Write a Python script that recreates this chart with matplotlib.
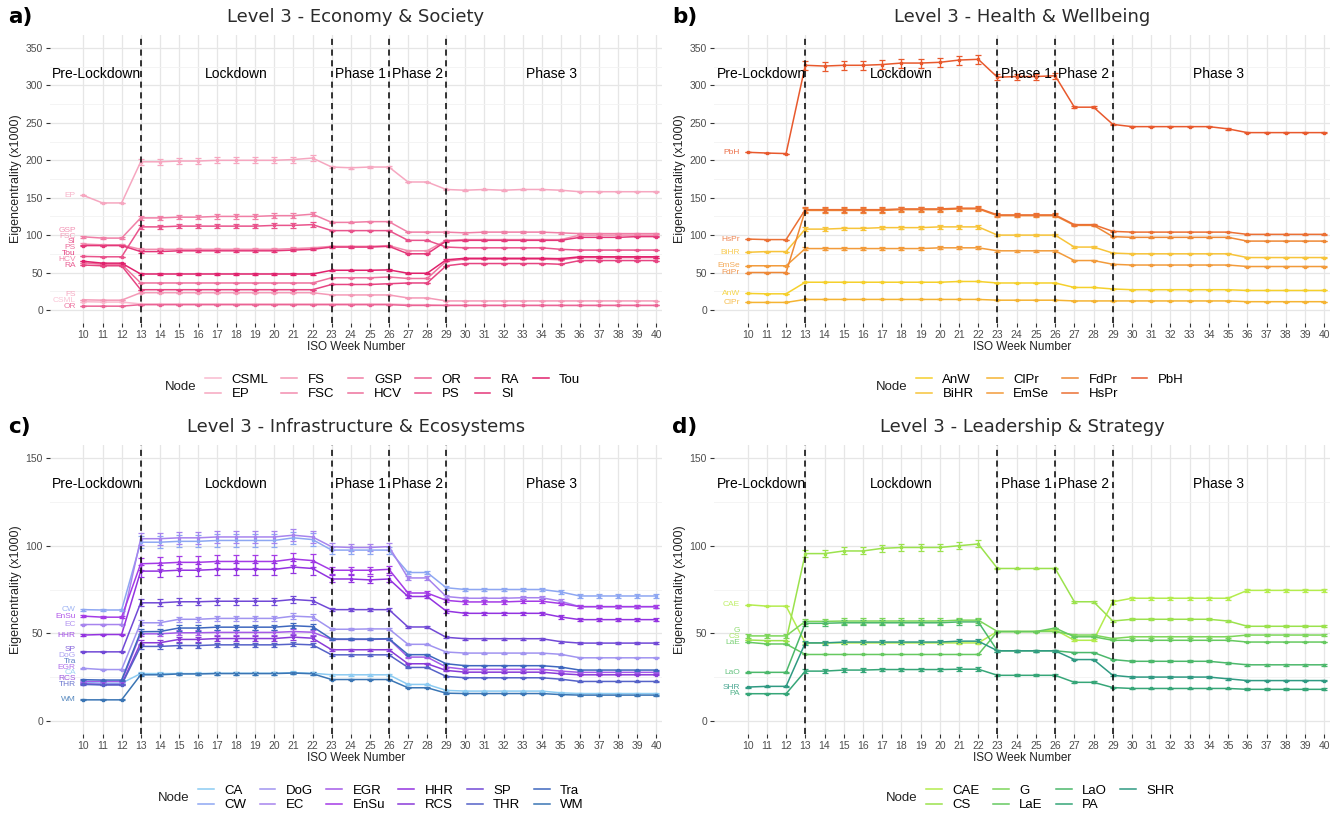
import numpy as np
import matplotlib.pyplot as plt
from matplotlib.colors import to_rgba

plt.rcParams['font.family'] = ['Liberation Sans', 'DejaVu Sans']

weeks = list(range(10, 41))
phase_lines = [13, 23, 26, 29]
phase_names = ['Pre-Lockdown', 'Lockdown', 'Phase 1', 'Phase 2', 'Phase 3']
phase_pos = [10.7, 18, 24.5, 27.5, 34.5]

# ---- a) Economy & Society
econ_nodes = ['CSML', 'EP', 'FS', 'FSC', 'GSP', 'HCV', 'OR', 'PS', 'RA', 'SI', 'Tou']
econ_vals = {
    'CSML': [11, 10.5, 10.5] + [8] * 10 + [8, 8, 8, 8] + [7, 7] + [6] * 12,
    'EP': [153, 143, 143, 198, 198, 199, 199, 200, 200, 200, 200, 201, 203, 191, 190, 191, 191, 171, 171,
           161, 160, 161, 160, 161, 161, 160, 158, 158, 158, 158, 158],
    'FS': [13.5, 13, 13] + [23] * 10 + [20] * 4 + [16, 16] + [12] * 12,
    'FSC': [88, 87, 87, 81, 81, 81, 81, 81, 81, 81, 81, 82, 83, 85, 85, 85, 86, 79, 79,
            93, 94, 94, 94, 94, 94, 94, 100, 100, 100, 100, 100],
    'GSP': [97.7, 96, 96, 123, 123, 124, 124, 125, 125, 125, 126, 126, 128, 117, 117, 118, 118, 104, 104,
            104, 103, 104, 104, 104, 104, 103, 102, 102, 102, 102, 102],
    'HCV': [63, 61, 61] + [36] * 10 + [43, 43, 43, 44] + [42, 42] + [65, 68, 68, 68, 68, 68, 67, 70, 70, 70, 70, 70],
    'OR': [5, 5, 5] + [7] * 10 + [7, 7, 7, 7] + [6, 6] + [6] * 12,
    'PS': [71.5, 71, 71, 111, 111, 112, 112, 112, 112, 112, 113, 113, 114, 106, 106, 106, 106, 93, 93,
           84, 83, 83, 83, 83, 83, 81, 80, 80, 80, 80, 80],
    'RA': [60, 59, 59] + [27] * 10 + [34, 34, 34, 35] + [36, 36] + [59, 62, 62, 62, 62, 62, 61, 66, 66, 66, 66, 66],
    'SI': [86, 86, 86, 78, 78, 79, 79, 79, 79, 79, 79, 80, 81, 84, 84, 84, 85, 75, 75,
           92, 93, 93, 93, 93, 93, 93, 97, 97, 97, 98, 98],
    'Tou': [65, 62.5, 62.5] + [48] * 10 + [53, 53, 53, 53.5] + [49, 49] + [67, 69, 69, 69, 69, 69, 68.5, 71, 71, 71, 71, 71],
}
econ_err = {
    'EP': [0, 0, 0] + [4] * 10 + [1] * 4 + [0, 0] + [0.5] * 12,
    'GSP': [1.5, 1.5, 1.5] + [3] * 10 + [1] * 4 + [0.5, 0.5] + [1] * 12,
    'PS': [0, 0, 0] + [3] * 10 + [1] * 4 + [0.5, 0.5] + [0.5] * 12,
    'FSC': [1, 1, 1] + [1.5] * 10 + [1] * 4 + [0.5, 0.5] + [1] * 12,
    'SI': [1, 1, 1] + [1.5] * 10 + [1] * 4 + [0.5, 0.5] + [1] * 12,
    'Tou': [0, 0, 0] + [1.5] * 10 + [1] * 4 + [0.5, 0.5] + [1] * 12,
}
econ_cols = ['#F9BBCF', '#F6A7C0', '#F49AB7', '#F28DAF', '#F07FA6', '#EE719D',
             '#EB6395', '#E9548C', '#E64582', '#E43779', '#E0216C']

# ---- b) Health & Wellbeing
health_nodes = ['AnW', 'BiHR', 'ClPr', 'EmSe', 'FdPr', 'HsPr', 'PbH']
health_vals = {
    'AnW': [22, 21.5, 21.5] + [37, 37, 37, 37, 37, 37, 37, 37, 38, 38] + [36] * 4 + [30, 30] + [28] + [27] * 6 + [26] * 5,
    'BiHR': [77, 78, 78] + [108, 108, 109, 109, 110, 110, 110, 111, 111, 111] + [100] * 4 + [84, 84] + [76] + [75] * 6 + [70] * 5,
    'ClPr': [10, 10, 10] + [14] * 10 + [13] * 4 + [12, 12] + [12] + [12] * 6 + [11] * 5,
    'EmSe': [59, 59, 59] + [82, 82, 82, 82, 82, 82, 82, 83, 83, 83] + [79] * 4 + [66, 66] + [61] + [60] * 6 + [58] * 5,
    'FdPr': [50, 50, 50] + [133, 133, 133, 133, 133, 134, 134, 134, 135, 135] + [126] * 4 + [113, 113] + [98] + [97] * 6 + [92] * 5,
    'HsPr': [94.7, 94, 94] + [134, 134, 134, 134, 134, 135, 135, 135, 136, 136] + [127] * 4 + [114, 114] + [105] + [104] * 6 + [101] * 5,
    'PbH': [210.7, 209.7, 209, 327, 326, 327, 327, 328, 330, 330, 331, 334, 335, 311, 312, 312, 313, 271, 271,
            248, 245, 245, 245, 245, 245, 242, 237, 237, 237, 237, 237],
}
health_err = {
    'PbH': [0, 0, 0] + [6] * 10 + [4] * 4 + [1, 1] + [1] * 12,
    'HsPr': [0, 0, 0] + [3] * 10 + [2] * 4 + [1, 1] + [0.5] * 12,
    'FdPr': [0, 0, 0] + [3] * 10 + [2] * 4 + [1, 1] + [0.5] * 12,
    'BiHR': [0, 0, 0] + [2.5] * 10 + [1] * 4 + [1, 1] + [0.5] * 12,
    'EmSe': [0, 0, 0] + [2] * 10 + [1] * 4 + [1, 1] + [0.5] * 12,
}
health_cols = ['#F5D02C', '#F7C43A', '#F5B433', '#F29B3B', '#EE8836', '#EB7034', '#E8592D']

# ---- c) Infrastructure & Ecosystems
infra_nodes = ['CA', 'CW', 'DoG', 'EC', 'EGR', 'EnSu', 'HHR', 'RCS', 'SP', 'THR', 'Tra', 'WM']
infra_vals = {
    'CA': [22, 21.5, 21.5, 27, 27, 27, 27, 27.2, 27.2, 27.2, 27.2, 27.5, 27.2, 26.3, 26.3, 26.3, 26.3, 20.8, 20.8,
           17.4, 17, 17, 17, 17, 17, 16, 15.6, 15.6, 15.6, 15.6, 15.6],
    'CW': [63.5, 63.3, 63.3, 102, 102, 102.5, 102.5, 103, 103, 103, 103, 104.5, 103.5, 97.5, 97.5, 97.5, 97.5,
           84.7, 84.7, 76, 75, 75, 75, 75, 75, 73.6, 71.3, 71.3, 71.3, 71.3, 71.3],
    'DoG': [30, 29.3, 29.3, 56, 56, 58, 58, 58.5, 58.5, 58.5, 58.5, 59.8, 59.3, 52.3, 52.3, 52.5, 52.5,
            43.7, 43.7, 39.3, 38.7, 38.7, 38.7, 38.7, 38.7, 38, 36, 36, 36, 36, 36],
    'EC': [55, 55, 55, 104, 104, 104.5, 104.5, 105, 105, 105, 105, 106, 105, 99.4, 99, 99, 99.5,
           81.6, 81.6, 71, 70, 70, 70, 70.3, 70.3, 68.3, 65.2, 65.2, 65.2, 65.2, 65.2],
    'EGR': [22.5, 22.5, 22.5, 49.7, 49.7, 50.3, 50.3, 50.5, 50.5, 50.5, 50.5, 51, 50.6, 46.5, 46.5, 46.5, 46.7,
            36.4, 36.4, 30.7, 29.4, 29.4, 29.4, 29.4, 29.4, 28.4, 27.7, 27.7, 27.7, 27.7, 27.7],
    'EnSu': [59.8, 59.2, 59.2, 89.7, 90, 90.5, 90.5, 91, 91, 91, 91, 92.4, 91.5, 86, 86, 86, 86.5,
             73, 73, 68.8, 67.9, 67.9, 67.9, 68.3, 68.3, 67, 65.2, 65.2, 65.2, 65.2, 65.2],
    'HHR': [49, 49.3, 49.3, 85.5, 85.5, 86, 86, 86.5, 86.5, 86.5, 86.5, 87.8, 87, 81, 81, 80.5, 81,
            71, 71, 62.7, 61.4, 61.4, 61.4, 61.4, 61.4, 59.3, 57.8, 57.8, 57.8, 57.8, 57.8],
    'RCS': [21.1, 20.8, 20.8, 44.6, 44.6, 46.5, 46.5, 47, 47, 47, 47, 47.8, 47.2, 40.6, 40.6, 40.6, 40.6,
            32.6, 32.6, 28.8, 27.8, 27.8, 27.8, 27.8, 27.8, 26.9, 26.3, 26.3, 26.3, 26.3, 26.3],
    'SP': [39.4, 39.4, 39.4, 67.4, 67.4, 68, 68, 68.3, 68.3, 68.3, 68.3, 69.3, 68.6, 63.5, 63.5, 63.5, 63.5,
           53.6, 53.6, 47.7, 46.9, 46.9, 46.9, 46.9, 46.9, 45.2, 44.4, 44.4, 44.4, 44.4, 44.4],
    'THR': [20.8, 20.5, 20.5, 42.5, 42.5, 43, 43, 43.4, 43.4, 43.4, 43.4, 43.8, 43.4, 37.7, 37.7, 37.7, 37.7,
            30.5, 30.5, 25.4, 24.6, 24.6, 24.6, 24.6, 24.6, 23.8, 22.5, 22.5, 22.5, 22.5, 22.5],
    'Tra': [23.5, 23.3, 23.3, 50.9, 51, 53, 53, 53.5, 53.5, 53.5, 53.5, 54.3, 53.8, 46.7, 46.7, 46.7, 46.9,
            37.8, 37.8, 32.6, 31.5, 31.5, 31.5, 31.5, 31.5, 30.7, 29, 29, 29, 29, 29],
    'WM': [12, 12, 12, 26.3, 26.3, 26.8, 26.8, 27, 27, 27, 27, 27.3, 26.9, 23.6, 23.6, 23.6, 23.6,
           18.9, 18.9, 15.8, 15.6, 15.6, 15.6, 15.6, 15.6, 15, 14.7, 14.7, 14.7, 14.7, 14.7],
}
infra_err = {
    'CW': [0.5] * 3 + [3.5] * 10 + [2] * 4 + [1, 1] + [1] * 12,
    'EC': [0.5] * 3 + [3.5] * 10 + [2] * 4 + [1, 1] + [1] * 12,
    'EnSu': [0.5] * 3 + [3.5] * 10 + [2] * 4 + [1, 1] + [1] * 12,
    'HHR': [0.5] * 3 + [3.5] * 10 + [2] * 4 + [1, 1] + [1] * 12,
    'SP': [0.3] * 3 + [2] * 10 + [1] * 4 + [0.5, 0.5] + [0.5] * 12,
    'DoG': [0.3] * 3 + [1.5] * 10 + [0.5] * 4 + [0.3, 0.3] + [0.3] * 12,
    'Tra': [0.3] * 3 + [1.5] * 10 + [0.5] * 4 + [0.3, 0.3] + [0.3] * 12,
    'EGR': [0.3] * 3 + [1.5] * 10 + [0.5] * 4 + [0.3, 0.3] + [0.3] * 12,
    'RCS': [0.3] * 3 + [1.5] * 10 + [0.5] * 4 + [0.3, 0.3] + [0.3] * 12,
    'THR': [0.3] * 3 + [1.2] * 10 + [0.5] * 4 + [0.3, 0.3] + [0.3] * 12,
    'CA': [0.3] * 3 + [0.8] * 10 + [0.5] * 4 + [0.3, 0.3] + [0.3] * 12,
    'WM': [0.3] * 3 + [0.8] * 10 + [0.5] * 4 + [0.3, 0.3] + [0.3] * 12,
}
infra_cols = ['#8CCBF2', '#8EA7F2', '#A194F0', '#A784EE', '#A45BE8', '#A43BE6',
              '#9333E0', '#8A3BD8', '#7149D6', '#5562C8', '#3E67BE', '#3A75B4']

# ---- d) Leadership & Strategy
lead_nodes = ['CAE', 'CS', 'G', 'LaE', 'LaO', 'PA', 'SHR']
lead_vals = {
    'CAE': [66.3, 65.5, 65.5] + [44.5] * 10 + [51, 51, 51, 52] + [46, 46] + [68, 70, 70, 70, 70, 70, 70, 74.5, 74.5, 74.5, 74.5, 74.5],
    'CS': [46.2, 45.8, 45.8, 95.5, 95.5, 97, 97, 98.5, 99, 99, 99, 100, 101] + [87, 87, 87, 87] + [68, 68] + [57, 58, 58, 58, 58, 58, 57, 54, 54, 54, 54, 54],
    'G': [48.5, 48.5, 48.5, 56.8, 56.8, 57, 57, 57, 57, 57, 57, 57.5, 57.5] + [51, 51, 51, 51] + [49, 49] + [47, 48, 48, 48, 48, 48, 48, 49, 49, 49, 49, 49],
    'LaE': [44.9, 43.9, 43.9] + [37.9] * 10 + [51, 51, 51, 53] + [48, 48] + [46, 46, 46, 46, 46, 46, 46, 45, 45, 45, 45, 45],
    'LaO': [27.7, 27.7, 27.7, 55.7, 55.7, 56, 56, 56, 56, 56, 56, 56.5, 56.5] + [40, 40, 40, 40] + [39, 39] + [35, 34, 34, 34, 34, 34, 33, 32, 32, 32, 32, 32],
    'PA': [15.5, 15.5, 15.5] + [28.4, 28.4, 29, 29, 29.3, 29.3, 29.3, 29.3, 29.5, 29.5] + [26, 26, 26, 26] + [22, 22] + [19, 18.5, 18.5, 18.5, 18.5, 18.5, 18.5, 18, 18, 18, 18, 18],
    'SHR': [19.3, 19.7, 19.7] + [44.5, 44.5, 45, 45, 45, 45, 45, 45, 45.5, 45.5] + [40, 40, 40, 40] + [35, 35] + [26, 25, 25, 25, 25, 25, 24, 23, 23, 23, 23, 23],
}
lead_err = {
    'CS': [0] * 3 + [2] * 10 + [0.5] * 4 + [0.5, 0.5] + [0.5] * 12,
    'CAE': [0] * 3 + [0.5] * 10 + [0.5] * 4 + [0.5, 0.5] + [1] * 12,
    'G': [1] * 3 + [1.5] * 10 + [0.5] * 4 + [0.5, 0.5] + [0.5] * 12,
    'LaO': [0.3] * 3 + [1.5] * 10 + [0.5] * 4 + [0.5, 0.5] + [0.5] * 12,
    'SHR': [0.3] * 3 + [1] * 10 + [0.5] * 4 + [0.5, 0.5] + [0.5] * 12,
    'PA': [0.3] * 3 + [1] * 10 + [0.5] * 4 + [0.5, 0.5] + [0.5] * 12,
}
lead_cols = ['#B4EC4E', '#9BE24D', '#7DD65A', '#66C960', '#4CB86B', '#36A678', '#2F9A82']

W, H = 1338, 815
fig = plt.figure(figsize=(W / 100, H / 100), dpi=100)


def rect(l, r, t, b):
    return [l / W, 1 - b / H, (r - l) / W, (b - t) / H]


def label_positions(vals, gap):
    order = np.argsort(vals)
    pos = np.array(vals, dtype=float)
    for k in range(1, len(order)):
        i, j = order[k], order[k - 1]
        if pos[i] - pos[j] < gap:
            pos[i] = pos[j] + gap
    return pos


def panel(box, letter, title, nodes, vals, errs, cols, ymax, ystep, legend_x, ncol):
    ax = fig.add_axes(rect(*box))
    pad = ymax * 0.05
    ax.set_ylim(-pad, ymax + pad)
    ax.set_xlim(8.25, 40.3)
    ax.set_xticks(weeks)
    ax.set_yticks(np.arange(0, ymax + 1, ystep))
    ax.set_yticks(np.arange(ystep / 2, ymax, ystep), minor=True)
    ax.grid(True, which='major', color='#E6E6E6', lw=0.9)
    ax.grid(True, which='minor', axis='y', color='#F2F2F2', lw=0.6)
    ax.set_axisbelow(True)
    for s in ax.spines.values():
        s.set_visible(False)
    ax.tick_params(axis='both', which='major', length=3, color='#333333', labelsize=7.5,
                   labelcolor='#4D4D4D', pad=2)
    ax.tick_params(axis='y', which='minor', length=0)
    ax.set_xlabel('ISO Week Number', fontsize=8.5, color='#222222', labelpad=1)
    ax.set_ylabel('Eigencentrality (x1000)', fontsize=9, color='#222222', labelpad=3)

    handles = []
    for name, c in zip(nodes, cols):
        v = vals[name]
        e = errs.get(name, [0] * len(weeks))
        ln, = ax.plot(weeks, v, color=c, lw=1.1, zorder=3)
        ax.errorbar(weeks, v, yerr=e, fmt='s', ms=1.7, color=c, ecolor=c, elinewidth=0.9,
                    capsize=2, capthick=0.9, zorder=3)
        handles.append(ln)

    start = [vals[n][0] for n in nodes]
    lab_y = label_positions(start, ymax * 0.022)
    for name, c, y in zip(nodes, cols, lab_y):
        ax.text(9.6, y, name, color=to_rgba(c, 0.85), fontsize=6, ha='right', va='center')

    for w in phase_lines:
        ax.axvline(w, color='black', ls=(0, (4, 3)), lw=1.1, zorder=4)
    for name, x in zip(phase_names, phase_pos):
        ax.text(x, ymax * 0.9, name, fontsize=10, ha='center', va='center', color='black')

    cx = (box[0] + box[1]) / 2
    fig.text(cx / W, 1 - (box[2] - 18) / H, title, fontsize=13, ha='center', va='center',
             color='#2B2B2B', family='DejaVu Sans')
    fig.text((box[0] - 42) / W, 1 - (box[2] - 18) / H, letter, fontsize=15.5, fontweight='bold',
             ha='left', va='center', family='DejaVu Sans')

    leg_y = box[3] + 64
    fig.legend(handles, nodes, ncol=ncol, loc='center left',
               bbox_to_anchor=(legend_x / W, 1 - leg_y / H), frameon=False,
               fontsize=9.5, handlelength=1.2, handletextpad=0.8, columnspacing=1.0,
               labelspacing=0.15, borderpad=0, borderaxespad=0)
    fig.text((legend_x - 40) / W, 1 - leg_y / H, 'Node', fontsize=9.5, ha='left', va='center',
             color='#222222')
    return ax


panel((50, 662, 35, 323), 'a)', 'Level 3 - Economy & Society', econ_nodes, econ_vals, econ_err,
      econ_cols, 350, 50, 205, 6)
panel((714, 1330, 35, 323), 'b)', 'Level 3 - Health & Wellbeing', health_nodes, health_vals, health_err,
      health_cols, 350, 50, 916, 4)
panel((50, 662, 445, 734), 'c)', 'Level 3 - Infrastructure & Ecosystems', infra_nodes, infra_vals, infra_err,
      infra_cols, 150, 50, 198, 6)
panel((714, 1330, 445, 734), 'd)', 'Level 3 - Leadership & Strategy', lead_nodes, lead_vals, lead_err,
      lead_cols, 150, 50, 926, 4)

fig.savefig('out.png', dpi=100)
